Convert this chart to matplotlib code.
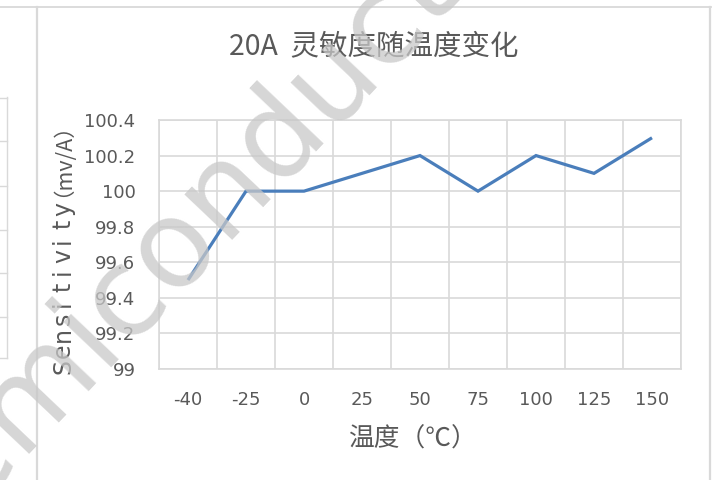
import matplotlib
matplotlib.use('Agg')
import matplotlib.pyplot as plt
from matplotlib.lines import Line2D

# ---- data ----
temps = ['-40', '-25', '0', '25', '50', '75', '100', '125', '150']
sens = [99.5, 100.0, 100.0, 100.1, 100.2, 100.0, 100.2, 100.1, 100.3]
yticks = [99.0, 99.2, 99.4, 99.6, 99.8, 100.0, 100.2, 100.4]
ytick_labels = ['99', '99.2', '99.4', '99.6', '99.8', '100', '100.2', '100.4']
title = '20A  灵敏度随温度变化'
xlabel = '温度（℃）'
ylabel_main = 'Sensitivity'
ylabel_unit = '（mv/A）'
watermark = 'Semiconductor'

W, H = 719, 480
CJK = ['Noto Sans CJK SC', 'DejaVu Sans']
TXT = '#595959'
GRID = '#d9d9d9'


def px(x, y):
    return (x / W, 1 - y / H)


fig = plt.figure(figsize=(W / 100, H / 100), dpi=100)
fig.patch.set_facecolor('white')

# ---- page decoration (frame of the chart and neighbouring table) ----
def fline(x0, y0, x1, y1, color=GRID, lw=1.3):
    a = px(x0, y0)
    b = px(x1, y1)
    fig.add_artist(Line2D([a[0], b[0]], [a[1], b[1]], transform=fig.transFigure,
                          color=color, lw=lw, zorder=0))

fline(0, 7, 711, 7)
fline(37, 7, 37, 480, lw=1.6)
fline(710, 7, 710, 480, lw=1.6)
fline(7, 97, 7, 358, lw=1.0)
for yy in [98, 141, 186, 230, 273, 317, 358]:
    fline(0, yy, 7, yy, lw=1.0)

# ---- axes ----
l, t, r, b = 159, 120, 681, 369
ax = fig.add_axes([l / W, 1 - b / H, (r - l) / W, (b - t) / H])
xs = list(range(len(temps)))
ax.plot(xs, sens, color='#4a7ebb', lw=2.3, solid_capstyle='butt',
        solid_joinstyle='miter', zorder=3)
ax.set_xlim(-0.5, len(temps) - 0.5)
ax.set_ylim(yticks[0], yticks[-1])
ax.set_xticks(xs)
ax.set_xticklabels(temps)
ax.set_xticks([i - 0.5 for i in range(len(temps) + 1)], minor=True)
ax.set_yticks(yticks)
ax.set_yticklabels(ytick_labels)
ax.grid(True, axis='y', which='major', color=GRID, lw=1.2)
ax.grid(True, axis='x', which='minor', color=GRID, lw=1.2)
ax.grid(False, axis='x', which='major')
ax.set_axisbelow(True)
for s in ax.spines.values():
    s.set_color(GRID)
    s.set_linewidth(1.2)
ax.tick_params(axis='both', which='both', length=0)
ax.tick_params(axis='y', pad=17, labelsize=13, labelcolor=TXT)
ax.tick_params(axis='x', pad=16, labelsize=13, labelcolor=TXT)

# ---- texts ----
fig.text(*px(374, 46), title, ha='center', va='center', fontsize=20.5,
         color=TXT, family=CJK)
fig.text(*px(413, 440), xlabel, ha='center', va='center', fontsize=18.5,
         color=TXT, family=CJK)

# spaced y label
y0, step = 366, 15.7
for i, ch in enumerate(ylabel_main):
    fig.text(*px(70, y0 - i * step), ch, rotation=90, rotation_mode='anchor',
             ha='center', va='baseline', fontsize=17, color=TXT,
             family=['DejaVu Sans'])
fig.text(*px(52, 197), ylabel_unit, rotation=90, ha='center', va='bottom',
         fontsize=15.5, color=TXT, family=CJK)

# ---- watermark ----
fig.text(*px(207, 210), watermark, rotation=46.5, rotation_mode='anchor',
         ha='center', va='center', fontsize=88,
         color='#c8c8c8', alpha=0.75, family=['DejaVu Sans'], zorder=10)

fig.savefig('out.png', dpi=100)
